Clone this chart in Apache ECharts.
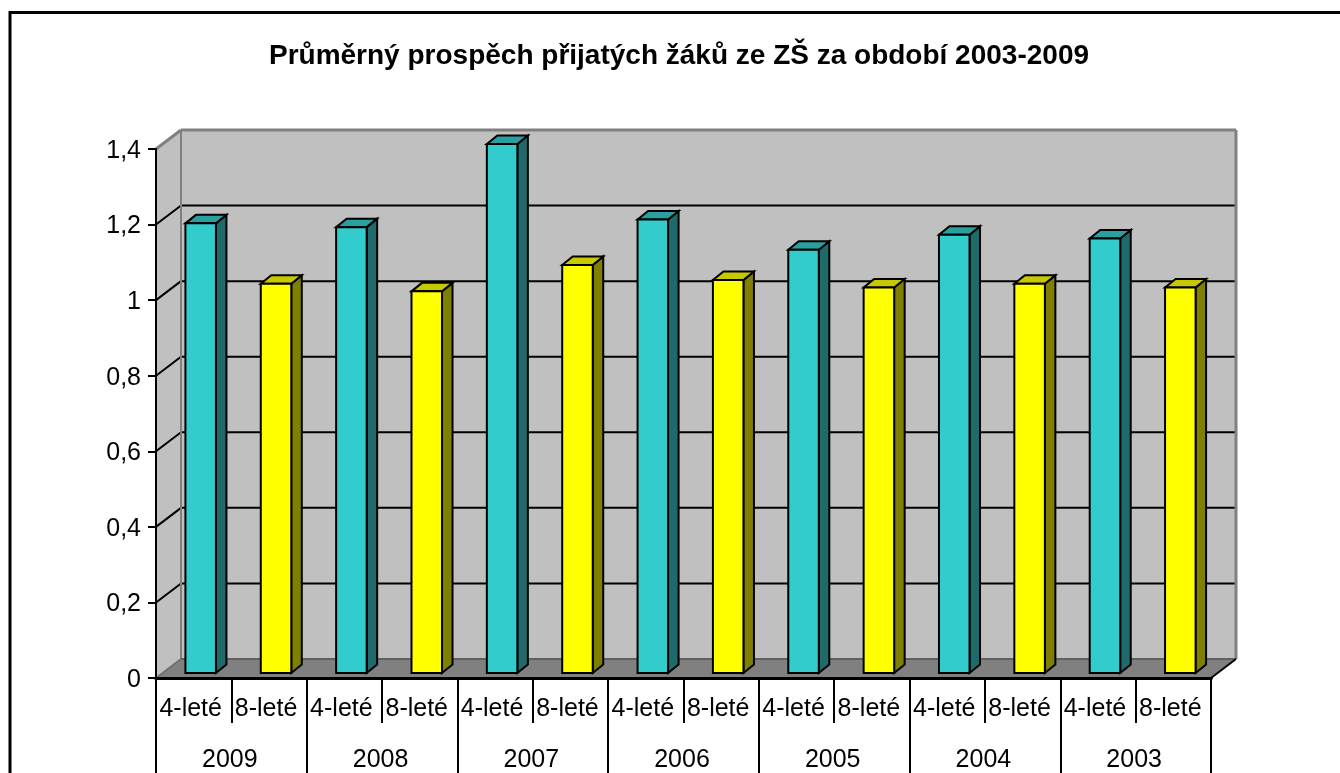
<!DOCTYPE html>
<html>
<head>
<meta charset="utf-8">
<style>
  html, body { margin: 0; padding: 0; background: #fff; overflow: hidden; }
  #main { width: 1340px; height: 773px; }
</style>
</head>
<body>
<div id="main"></div>
<script src="https://cdn.jsdelivr.net/npm/echarts@6/dist/echarts.min.js"></script>
<script>
const titleText = 'Průměrný prospěch přijatých žáků ze ZŠ za období 2003-2009'
const years = ['2009', '2008', '2007', '2006', '2005', '2004', '2003']
const schoolTypes = ['4-leté', '8-leté']
const values4 = [1.19, 1.18, 1.40, 1.20, 1.12, 1.16, 1.15]
const values8 = [1.03, 1.01, 1.08, 1.04, 1.02, 1.03, 1.02]
const yTicks = [0, 0.2, 0.4, 0.6, 0.8, 1, 1.2, 1.4]

const categories = []
years.forEach(() => schoolTypes.forEach(t => categories.push(t)))

const font = '"Liberation Sans", Arial, sans-serif'
const wall = { dx: 25, dy: -19 }
const bar = { ox: 7, oy: -5, dx: 10.5, dy: -8.5, ratio: 0.405 }

const poly = (points, fill, stroke, width) => ({
    type: 'polygon',
    shape: { points },
    style: { fill, stroke, lineWidth: width, lineJoin: 'miter' }
})
const line = (x1, y1, x2, y2, stroke, width) => ({
    type: 'line',
    shape: { x1, y1, x2, y2 },
    style: { stroke, lineWidth: width }
})

const renderWalls = (params, api) => {
    const cs = params.coordSys
    const l = cs.x, r = cs.x + cs.width, t = cs.y, b = cs.y + cs.height
    const dx = wall.dx, dy = wall.dy
    const children = [
        poly([[l, t], [l + dx, t + dy], [l + dx, b + dy], [l, b]], '#c0c0c0'),
        poly([[l + dx, t + dy], [r + dx, t + dy], [r + dx, b + dy], [l + dx, b + dy]], '#c0c0c0'),
        poly([[l, b], [l + dx, b + dy], [r + dx, b + dy], [r, b]], '#808080')
    ]
    yTicks.slice(1, -1).forEach(v => {
        const y = api.coord([0, v])[1]
        children.push(line(l, y, l + dx, y + dy, '#000', 2))
        children.push(line(l + dx, y + dy, r + dx, y + dy, '#000', 2))
    })
    children.push(line(l, t, l + dx, t + dy, '#808080', 3))
    children.push(line(l + dx, t + dy, r + dx, t + dy, '#808080', 3))
    children.push(line(l + dx, t + dy, l + dx, b + dy, '#808080', 2))
    children.push(line(r + dx, t + dy, r + dx, b + dy, '#808080', 3))
    children.push(line(l + dx, b + dy, r + dx, b + dy, '#606060', 2))
    children.push(line(l, b, l + dx, b + dy, '#707070', 2))
    children.push(line(r, b, r + dx, b + dy, '#000', 2))
    return { type: 'group', children }
}

const makeBars = (colors) => (params, api) => {
    const base = api.coord([api.value(0), 0])
    const top = api.coord([api.value(0), api.value(1)])
    const w = api.size([1, 0])[0] * bar.ratio
    const x0 = base[0] + bar.ox - w / 2, x1 = x0 + w
    const y0 = top[1] + bar.oy, y1 = base[1] + bar.oy
    const dx = bar.dx, dy = bar.dy
    return {
        type: 'group',
        children: [
            poly([[x1, y0], [x1 + dx, y0 + dy], [x1 + dx, y1 + dy], [x1, y1]], colors[2], '#000', 2),
            poly([[x0, y0], [x0 + dx, y0 + dy], [x1 + dx, y0 + dy], [x1, y0]], colors[1], '#000', 2),
            poly([[x0, y0], [x1, y0], [x1, y1], [x0, y1]], colors[0], '#000', 2)
        ]
    }
}

const chart = echarts.init(document.getElementById('main'))
chart.setOption({
    animation: false,
    backgroundColor: '#fff',
    textStyle: { fontFamily: font },
    title: {
        text: titleText,
        left: 674,
        top: 37,
        textAlign: 'center',
        textStyle: { fontFamily: font, fontSize: 28, fontWeight: 'bold', color: '#000' }
    },
    graphic: [{
        // frame of the sheet: only left and top edges are visible
        type: 'polyline',
        silent: true,
        shape: { points: [[10, 790], [10, 12.5], [1360, 12.5]] },
        style: { fill: 'none', stroke: '#000', lineWidth: 3 }
    }],
    grid: { left: 156, right: 129, top: 149, bottom: 95 },
    xAxis: [{
        type: 'category',
        data: categories,
        position: 'bottom',
        z: 5,
        axisLine: { lineStyle: { color: '#000', width: 3 } },
        axisTick: { show: true, length: 45, lineStyle: { color: '#000', width: 2 } },
        axisLabel: { interval: 0, margin: 19, padding: [0, 6, 0, 0], fontSize: 25, color: '#000', fontFamily: font }
    }, {
        type: 'category',
        data: years,
        position: 'bottom',
        z: 5,
        axisLine: { lineStyle: { color: '#000', width: 3 } },
        axisTick: { show: true, length: 96, lineStyle: { color: '#000', width: 2 } },
        axisLabel: { interval: 0, margin: 70, padding: [0, 3, 0, 0], fontSize: 25, color: '#000', fontFamily: font }
    }],
    yAxis: {
        type: 'value',
        min: 0,
        max: 1.4,
        interval: 0.2,
        z: 5,
        splitLine: { show: false },
        axisLine: { show: true, lineStyle: { color: '#000', width: 2 } },
        axisTick: { show: true, length: 8, lineStyle: { color: '#000', width: 2 } },
        axisLabel: {
            margin: 15,
            verticalAlign: 'top',
            lineHeight: 4,
            fontSize: 25,
            color: '#000',
            fontFamily: font,
            formatter: v => String(v).replace('.', ',')
        }
    },
    series: [{
        type: 'custom',
        name: 'walls',
        silent: true,
        z: 1,
        xAxisIndex: 0,
        renderItem: renderWalls,
        data: [[0, 0]]
    }, {
        type: 'custom',
        name: schoolTypes[0],
        z: 2,
        xAxisIndex: 0,
        renderItem: makeBars(['#33cccc', '#299f9f', '#1f6b6b']),
        data: values4.map((v, i) => [i * 2, v])
    }, {
        type: 'custom',
        name: schoolTypes[1],
        z: 2,
        xAxisIndex: 0,
        renderItem: makeBars(['#ffff00', '#c8c800', '#808000']),
        data: values8.map((v, i) => [i * 2 + 1, v])
    }]
})
</script>
</body>
</html>
